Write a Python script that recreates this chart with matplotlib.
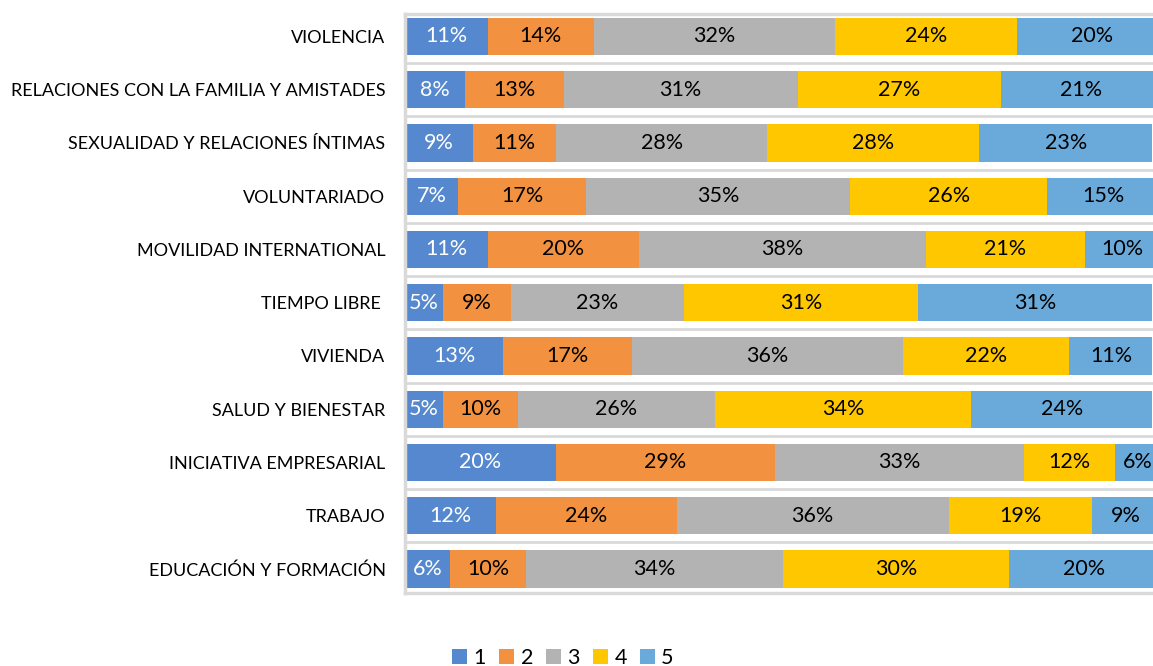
import numpy as np
import matplotlib.pyplot as plt

plt.rcParams['font.family'] = ['Lato', 'DejaVu Sans']

# categorias, de arriba a abajo
categorias = ["VIOLENCIA",
              "RELACIONES CON LA FAMILIA Y AMISTADES",
              "SEXUALIDAD Y RELACIONES ÍNTIMAS",
              "VOLUNTARIADO",
              "MOVILIDAD INTERNATIONAL",
              "TIEMPO LIBRE ",
              "VIVIENDA",
              "SALUD Y BIENESTAR",
              "INICIATIVA EMPRESARIAL",
              "TRABAJO",
              "EDUCACIÓN Y FORMACIÓN"]

# porcentajes por respuesta (1..5)
v1 = [11, 8, 9, 7, 11, 5, 13, 5, 20, 12, 6]
v2 = [14, 13, 11, 17, 20, 9, 17, 10, 29, 24, 10]
v3 = [32, 31, 28, 35, 38, 23, 36, 26, 33, 36, 34]
v4 = [24, 27, 28, 26, 21, 31, 22, 34, 12, 19, 30]
v5 = [20, 21, 23, 15, 10, 31, 11, 24, 6, 9, 20]

series = ["1", "2", "3", "4", "5"]
colores = ["#5588CE", "#F2913F", "#B3B3B3", "#FFC700", "#6AAADB"]
col_texto = ["white", "black", "black", "black", "black"]

fig = plt.figure(figsize=(11.53, 6.66), dpi=100)
ax = fig.add_axes([405/1153, 1-593/666, 755/1153, 579/666])

y = np.arange(len(categorias))
izq = np.zeros(len(categorias))
handles = []
for vals, nombre, c, ct in zip([v1, v2, v3, v4, v5], series, colores, col_texto):
    vals = np.array(vals, dtype=float)
    b = ax.barh(y, vals, left=izq, height=0.7, color=c, label=nombre)
    handles.append(b)
    for yi, xi, w in zip(y, izq, vals):
        ax.text(xi + w/2, yi, "%d%%" % w, ha="center", va="center",
                color=ct, fontsize=15.5)
    izq = izq + vals

ax.set_xlim(0, 100)
ax.set_ylim(len(categorias) - 1 + 0.45, -0.42)

# lineas de division entre categorias
for yy in np.arange(0.5, len(categorias) - 1, 1):
    ax.axhline(yy, color="#D9D9D9", lw=2, zorder=0)

ax.spines["right"].set_visible(False)
for s in ["top", "bottom", "left"]:
    ax.spines[s].set_color("#D9D9D9")
    ax.spines[s].set_linewidth(2.5)

ax.set_xticks([])
ax.set_yticks(y)
ax.set_yticklabels(categorias, fontsize=13)
ax.tick_params(axis="y", length=0, pad=14)

fig.legend(handles=handles, labels=series, loc="center",
           bbox_to_anchor=(563/1153, 1-658/666), ncol=5, frameon=False,
           fontsize=15.5, handlelength=0.7, handleheight=0.7,
           handletextpad=0.3, columnspacing=0.6)

plt.savefig("out.png", dpi=100)
